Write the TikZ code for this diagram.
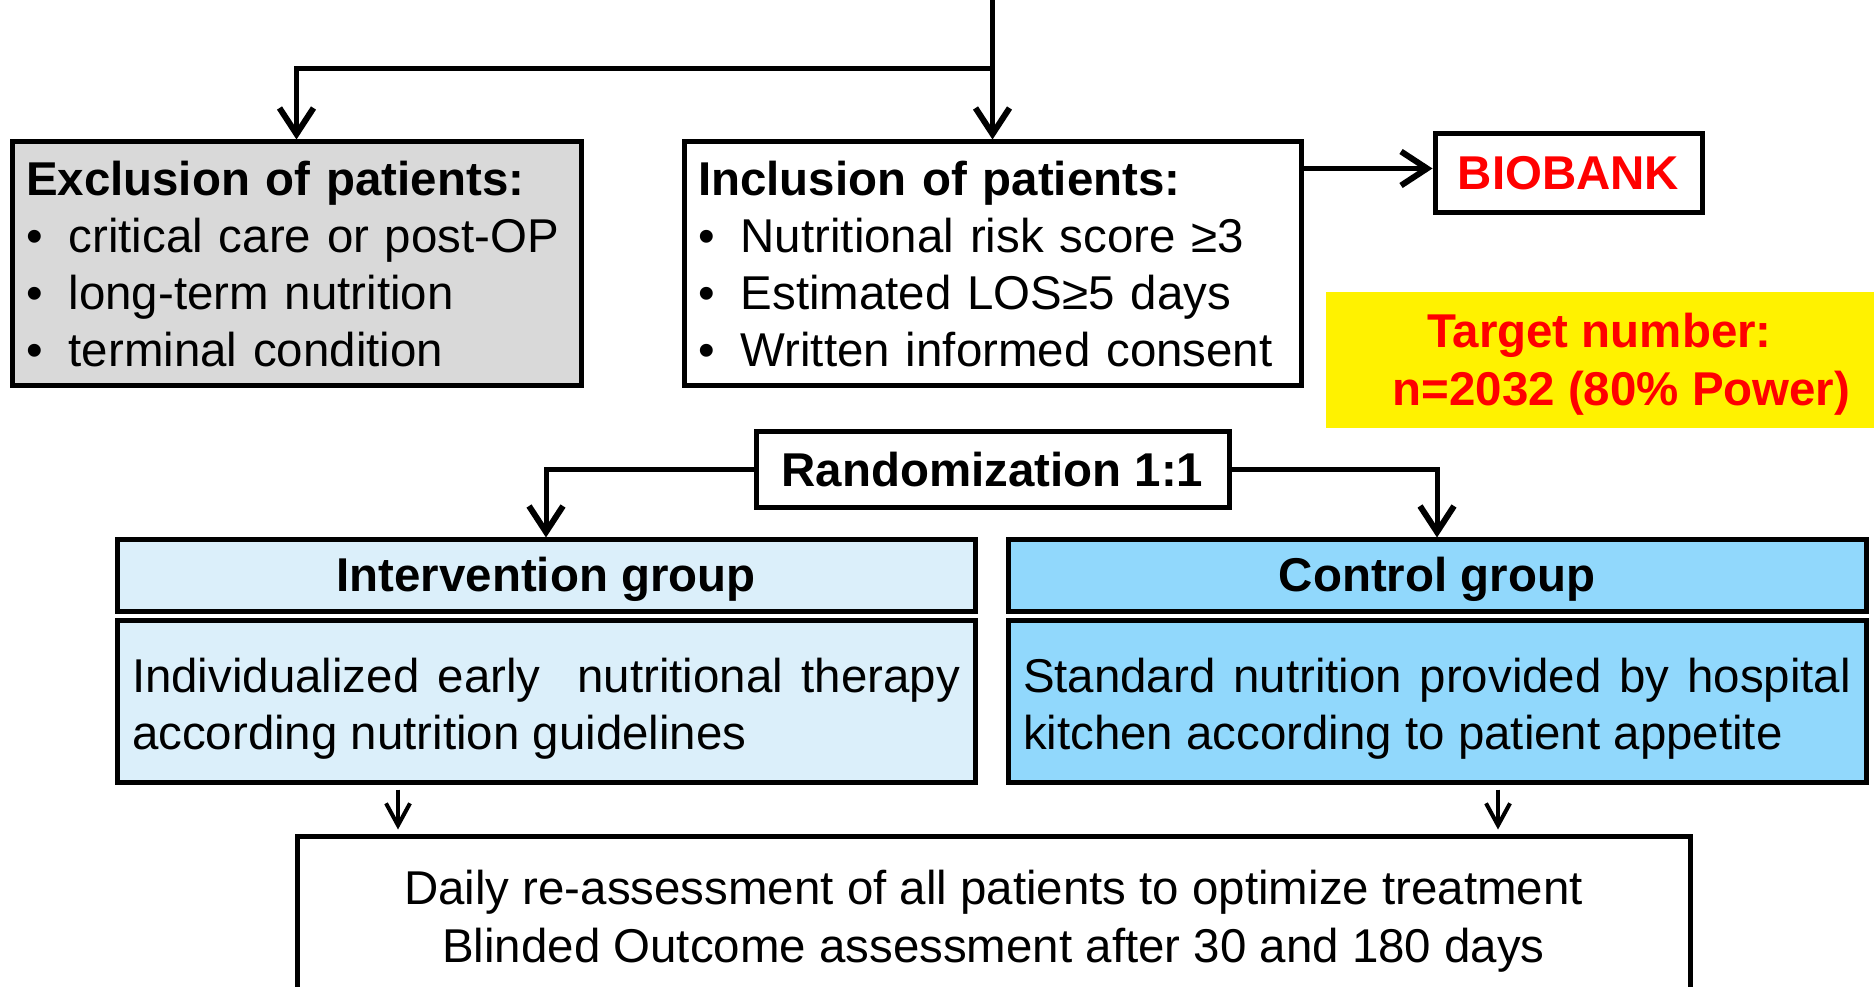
\documentclass[tikz,border=0pt]{standalone}
\usepackage{fontspec}
\setmainfont{Liberation Sans}
\usepackage{xcolor}
\usepackage{tikz}
\usetikzlibrary{arrows.meta, positioning}
\definecolor{exclgray}{HTML}{D9D9D9}
\definecolor{intblue}{HTML}{DBEFFA}
\definecolor{ctrlblue}{HTML}{91D8FC}
\newcommand{\bodyfont}{\fontsize{13.5pt}{16.3pt}\selectfont}
\newcommand{\bul}{\makebox[0.9em][l]{\textbullet}}
\newcommand{\lowerby}[2]{\raisebox{-#1}[\height][\depth]{#2}}

\begin{document}
\begin{tikzpicture}[x=0.1mm, y=-0.1mm,
            box/.style={draw, line width=0.5mm, inner sep=0pt, font=\bodyfont},
            conn/.style={line width=0.5mm, -{Straight Barb[length=2.6mm, width=3.4mm, line width=0.6mm]}},
            thinconn/.style={line width=0.4mm, -{Straight Barb[length=2.2mm, width=2.4mm]}},
        ]
            \clip (0,0) rectangle (1875,987);
            \node[box, fill=exclgray, minimum width=56.9mm, minimum height=24.4mm,
                  text width=54.1mm, align=left] (excl) at (296.5,264)
                  {\textbf{Exclusion of patients:}\\ \bul critical care or post-OP\\
                   \bul long-term nutrition\\ \bul terminal condition};
            \node[box, minimum width=61.7mm, minimum height=24.4mm,
                  text width=58.9mm, align=left] (incl) at (992.5,264)
                  {\textbf{Inclusion of patients:}\\ \bul Nutritional risk score ≥3\\
                   \bul Estimated LOS≥5 days\\ \bul Written informed consent};
            \node[box, minimum width=26.7mm, minimum height=7.9mm, text=red,
                  font=\bodyfont\bfseries] (bio) at (1568.5,173.5) {BIOBANK};
            \node[fill=yellow, minimum width=54.8mm, minimum height=13.6mm, text=red,
                  inner sep=0pt, font=\bodyfont\bfseries] (target) at (1599.5,360)
                  {\lowerby{0.5mm}{\begin{tabular}{@{}c@{}}Target number:\\
                   \hspace*{4.4mm}n=2032 (80\% Power)\end{tabular}}};
            \node[box, minimum width=47.3mm, minimum height=7.6mm,
                  font=\bodyfont\bfseries] (rando) at (992.5,470) {Randomization 1:1};
            % groups
            \node[box, fill=intblue, minimum width=85.8mm, minimum height=7.2mm,
                  font=\bodyfont\bfseries] (intgrp) at (546,576)
                  {\lowerby{0.35mm}{Intervention group}};
            \node[box, fill=intblue, minimum width=85.8mm, minimum height=16.2mm]
                  (intbody) at (546,701)
                  {\lowerby{0.8mm}{\parbox{82.8mm}{\makebox[82.8mm][s]{Individualized early\ \ nutritional therapy}\\
                   according nutrition guidelines}}};
            \node[box, fill=ctrlblue, minimum width=85.8mm, minimum height=7.2mm,
                  font=\bodyfont\bfseries] (ctrlgrp) at (1437,576)
                  {\lowerby{0.35mm}{Control group}};
            \node[box, fill=ctrlblue, minimum width=85.8mm, minimum height=16.2mm]
                  (ctrlbody) at (1437,701)
                  {\lowerby{0.8mm}{\parbox{82.8mm}{\makebox[82.8mm][s]{Standard nutrition provided by hospital}\\
                   kitchen according to patient appetite}}};
            \node[box, minimum width=139.3mm, minimum height=16.2mm] (outcome) at (993.5,917)
                  {\lowerby{0.5mm}{\begin{tabular}{@{}c@{}}Daily re-assessment of all patients to optimize treatment\\
                   Blinded Outcome assessment after 30 and 180 days\end{tabular}}};
            % connectors
            \coordinate (top) at (992.5,0);
            \coordinate (split) at (992.5,69);
            \draw[conn] (top) -- (incl.north);
            \draw[conn] (split) -| (excl.north);
            \draw[conn] ([yshift=0.5mm]incl.east |- bio.west) -- ([yshift=0.5mm]bio.west);
            \draw[conn] (rando.west) -| (intgrp.north);
            \draw[conn] (rando.east) -| (ctrlgrp.north);
            \draw[thinconn, shorten <=0.5mm, shorten >=0.4mm] ([xshift=-14.8mm]intbody.south)
                  -- ([xshift=-14.8mm]intbody.south |- outcome.north);
            \draw[thinconn, shorten <=0.5mm, shorten >=0.4mm] ([xshift=6.1mm]ctrlbody.south)
                  -- ([xshift=6.1mm]ctrlbody.south |- outcome.north);
        \end{tikzpicture}
\end{document}
